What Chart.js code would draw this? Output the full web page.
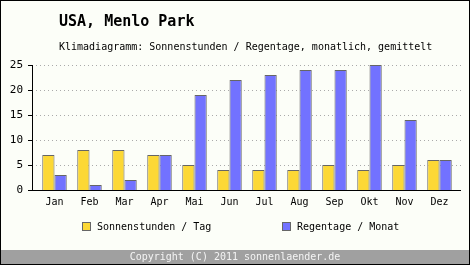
<!DOCTYPE html>
<html>
<head>
<meta charset="utf-8">
<script src="https://cdn.jsdelivr.net/npm/chart.js@4/dist/chart.umd.min.js"></script>
<style>
  html, body { margin: 0; padding: 0; background: #fcfef8; }
  #wrap { position: relative; width: 470px; height: 265px; }
</style>
</head>
<body>
<div id="wrap"><canvas id="chart" width="470" height="265"></canvas></div>
<script>
// data
var months = ["Jan", "Feb", "Mar", "Apr", "Mai", "Jun", "Jul", "Aug", "Sep", "Okt", "Nov", "Dez"];
var sunHours = [7, 8, 8, 7, 5, 4, 4, 4, 5, 4, 5, 6];
var rainDays = [3, 1, 2, 7, 19, 22, 23, 24, 24, 25, 14, 6];
var yTicks = [0, 5, 10, 15, 20, 25];

var titleText = "USA, Menlo Park";
var subtitleText = "Klimadiagramm: Sonnenstunden / Regentage, monatlich, gemittelt";
var footerText = "Copyright (C) 2011 sonnenlaender.de";
var sunLabel = "Sonnenstunden / Tag";
var rainLabel = "Regentage / Monat";

var mono = "'DejaVu Sans Mono', 'Liberation Mono', monospace";
var axisLeft = 32, axisRight = 461;

// title, legend, footer and frame drawn around the chart
var decor = {
    id: "decor",
    beforeDraw: function (chart) {
        var ctx = chart.ctx;
        ctx.save();
        ctx.fillStyle = "#fcfef8";
        ctx.fillRect(0, 0, chart.width, chart.height);
        ctx.restore();
    },
    beforeDatasetsDraw: function (chart) {
        // dotted horizontal guide lines
        var ctx = chart.ctx, y = chart.scales.y;
        ctx.save();
        ctx.strokeStyle = "#aaaaaa";
        ctx.lineWidth = 1;
        ctx.setLineDash([1, 3]);
        yTicks.forEach(function (v) {
            if (v === 0) return;
            var py = Math.round(y.getPixelForValue(v)) + 0.5;
            ctx.beginPath();
            ctx.moveTo(axisLeft + 4, py);
            ctx.lineTo(axisRight, py);
            ctx.stroke();
        });
        ctx.restore();
    },
    afterDatasetsDraw: function (chart) {
        // axis lines and tick marks
        var ctx = chart.ctx, y = chart.scales.y;
        var top = Math.round(y.getPixelForValue(25));
        var base = Math.round(y.getPixelForValue(0)) + 0.5;
        ctx.save();
        ctx.strokeStyle = "#000";
        ctx.lineWidth = 1;
        ctx.beginPath();
        ctx.moveTo(axisLeft + 0.5, top);
        ctx.lineTo(axisLeft + 0.5, base);
        ctx.moveTo(axisLeft, base);
        ctx.lineTo(axisRight, base);
        yTicks.forEach(function (v) {
            var py = Math.round(y.getPixelForValue(v)) + 0.5;
            ctx.moveTo(axisLeft - 4, py);
            ctx.lineTo(axisLeft + 1, py);
        });
        ctx.stroke();
        ctx.restore();
    },
    afterDraw: function (chart) {
        var ctx = chart.ctx;
        ctx.save();
        ctx.fillStyle = "#000";
        ctx.textBaseline = "middle";
        ctx.textAlign = "left";
        ctx.font = "bold 15px " + mono;
        ctx.fillText(titleText, 59, 22);
        ctx.font = "10px " + mono;
        ctx.fillText(subtitleText, 59, 47);

        // legend
        var items = [
            { x: 82, label: sunLabel, ds: chart.data.datasets[0] },
            { x: 282, label: rainLabel, ds: chart.data.datasets[1] }
        ];
        items.forEach(function (it) {
            ctx.fillStyle = it.ds.backgroundColor;
            ctx.fillRect(it.x, 222, 8, 8);
            ctx.strokeStyle = "#666";
            ctx.lineWidth = 1;
            ctx.strokeRect(it.x + 0.5, 222.5, 8, 8);
            ctx.fillStyle = "#000";
            ctx.fillText(it.label, it.x + 15, 227);
        });

        // footer
        ctx.fillStyle = "#a0a0a0";
        ctx.fillRect(0, 250, chart.width, 14);
        ctx.fillStyle = "#f4f4f4";
        ctx.textAlign = "center";
        ctx.fillText(footerText, 235, 257);

        // frame
        ctx.strokeStyle = "#000";
        ctx.lineWidth = 1;
        ctx.strokeRect(0.5, 0.5, chart.width - 1, chart.height - 1);
        ctx.restore();
    }
};

new Chart(document.getElementById("chart"), {
    type: "bar",
    data: {
        labels: months,
        datasets: [
            {
                label: sunLabel,
                data: sunHours,
                backgroundColor: "#fcd835",
                borderColor: "#666666",
                borderWidth: 1
            },
            {
                label: rainLabel,
                data: rainDays,
                backgroundColor: "#7272ff",
                borderColor: "#666666",
                borderWidth: 1
            }
        ]
    },
    options: {
        responsive: false,
        animation: false,
        events: [],
        layout: { padding: { top: 65, right: 13, bottom: 0, left: 0 } },
        datasets: {
            bar: { categoryPercentage: 0.7, barPercentage: 1 }
        },
        plugins: {
            legend: { display: false },
            title: { display: false },
            tooltip: { enabled: false }
        },
        scales: {
            x: {
                afterFit: function (s) { s.height = 75; },
                grid: { display: false, drawTicks: false },
                border: { display: false },
                ticks: {
                    color: "#000",
                    padding: 6,
                    font: { family: mono, size: 10 },
                    maxRotation: 0
                }
            },
            y: {
                min: 0,
                max: 25,
                afterFit: function (s) { s.width = 37; },
                afterBuildTicks: function (s) {
                    s.ticks = yTicks.map(function (v) { return { value: v }; });
                },
                border: { display: false },
                grid: { display: false, drawTicks: false },
                ticks: {
                    color: "#000",
                    padding: 14,
                    font: { family: mono, size: 11 }
                }
            }
        }
    },
    plugins: [decor]
});
</script>
</body>
</html>
